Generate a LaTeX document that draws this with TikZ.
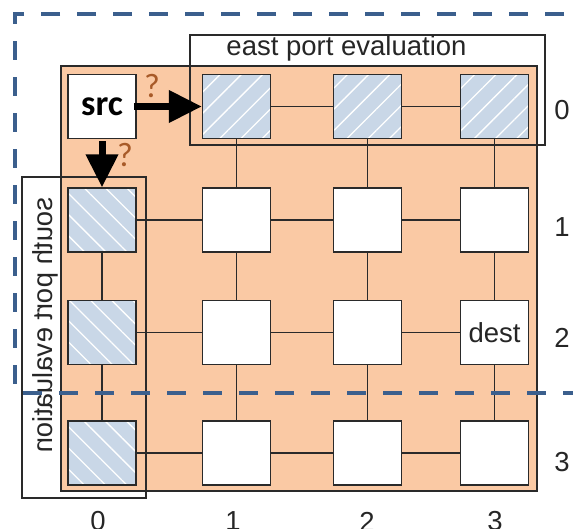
\documentclass[tikz,border=0pt]{standalone}
\usepackage{fontspec}
\setmainfont{Liberation Sans}
\newfontfamily\calib{Carlito}
\usetikzlibrary{arrows.meta,patterns.meta}
\definecolor{meshorange}{HTML}{FAC9A4}
\definecolor{hatchblue}{HTML}{C9D7E7}
\definecolor{dashblue}{HTML}{3B5F8D}
\definecolor{qbrown}{HTML}{A85A28}
\definecolor{edgegray}{HTML}{2A2A2A}
\begin{document}
\begin{tikzpicture}[x=1pt,y=-1pt,
  router/.style={draw=edgegray, line width=1.5pt, fill=white, minimum width=68pt, minimum height=64pt, inner sep=0pt},
  hatchne/.style={draw=edgegray, line width=1.5pt, minimum width=68pt, minimum height=64pt, inner sep=0pt,
     preaction={fill=hatchblue}, pattern={Lines[angle=45,distance=15pt,line width=1.3pt]}, pattern color=white},
  hatchnw/.style={draw=edgegray, line width=1.5pt, minimum width=68pt, minimum height=64pt, inner sep=0pt,
     preaction={fill=hatchblue}, pattern={Lines[angle=-45,distance=15pt,line width=1.3pt]}, pattern color=white},
  link/.style={draw=edgegray, line width=1.4pt},
  evalbox/.style={draw=edgegray, line width=1.3pt},
  bigtext/.style={font=\fontsize{27.5}{30}\selectfont, text=black!85, inner sep=0pt},
  qmark/.style={font=\calib\fontsize{34}{36}\selectfont, text=qbrown, inner sep=0pt},
  bigarrow/.style={line width=7pt, -{Triangle[length=33pt,width=31pt]}},
  regiondash/.style={draw=dashblue, line width=4pt, dash pattern=on 19pt off 17pt}
]
\useasboundingbox (0,0) rectangle (573,528);
% white backgrounds of evaluation boxes
\fill[white] (22,177) rectangle (146,498);
\fill[white] (190,35) rectangle (545,145);
% mesh background
\draw[fill=meshorange, draw=edgegray, line width=1.2pt] (61,66) rectangle (537,491);
% nodes
\node[router] (n00) at (102,106.5) {};
\node[hatchne] (n10) at (236.5,106.5) {};
\node[hatchne] (n20) at (367.5,106.5) {};
\node[hatchne] (n30) at (494.5,106.5) {};
\node[hatchnw] (n01) at (102,220) {};
\node[hatchnw] (n02) at (102,332.5) {};
\node[hatchnw] (n03) at (102,453) {};
\foreach \c/\x in {1/236.5,2/367.5,3/494.5}{
  \foreach \r/\y in {1/220,2/332.5,3/453}{
    \node[router] (n\c\r) at (\x,\y) {};
  }
}
% links
\draw[link] (n10) -- (n20);
\draw[link] (n20) -- (n30);
\foreach \r in {1,2,3}{
  \draw[link] (n0\r) -- (n1\r);
  \draw[link] (n1\r) -- (n2\r);
  \draw[link] (n2\r) -- (n3\r);
}
\foreach \c in {1,2,3}{
  \draw[link] (n\c0) -- (n\c1);
}
\foreach \c in {0,1,2,3}{
  \draw[link] (n\c1) -- (n\c2);
  \draw[link] (n\c2) -- (n\c3);
}
% node texts
\node[font=\calib\bfseries\fontsize{36}{38}\selectfont, inner sep=0pt] (srctxt) at (n00.center) {src};
\node[bigtext] (desttxt) at (n32.center) {dest};
% evaluation boxes
\draw[evalbox] (22,177) rectangle (146,498);
\draw[evalbox] (190,35) rectangle (545,145);
\node[bigtext, anchor=base] (easttxt) at (346.5,55) {east port evaluation};
\node[bigtext, rotate=-90, yscale=-1] (southtxt) at (45,325.5) {south port evaluation};
% arrows
\draw[bigarrow] ([xshift=-3pt]n00.east) -- (n10.west);
\draw[bigarrow] ([yshift=-2pt]n00.south) -- (n01.north);
\node[qmark] (q1) at (152,86) {?};
\node[qmark] (q2) at (125,155) {?};
% row / column labels
\node[bigtext] (r0) at (562,110) {0};
\node[bigtext] (r1) at (562,227) {1};
\node[bigtext] (r2) at (562,337.5) {2};
\node[bigtext] (r3) at (562,462) {3};
\node[bigtext] (c0) at (98,521.5) {0};
\node[bigtext] (c1) at (233,521.5) {1};
\node[bigtext] (c2) at (367,521.5) {2};
\node[bigtext] (c3) at (495,521.5) {3};
% dashed region
\begin{scope}
\clip (0,0) rectangle (573,528);
\draw[regiondash] (600,14) -- (15,14) -- (15,393) -- (600,393);
\end{scope}
\end{tikzpicture}
\end{document}
